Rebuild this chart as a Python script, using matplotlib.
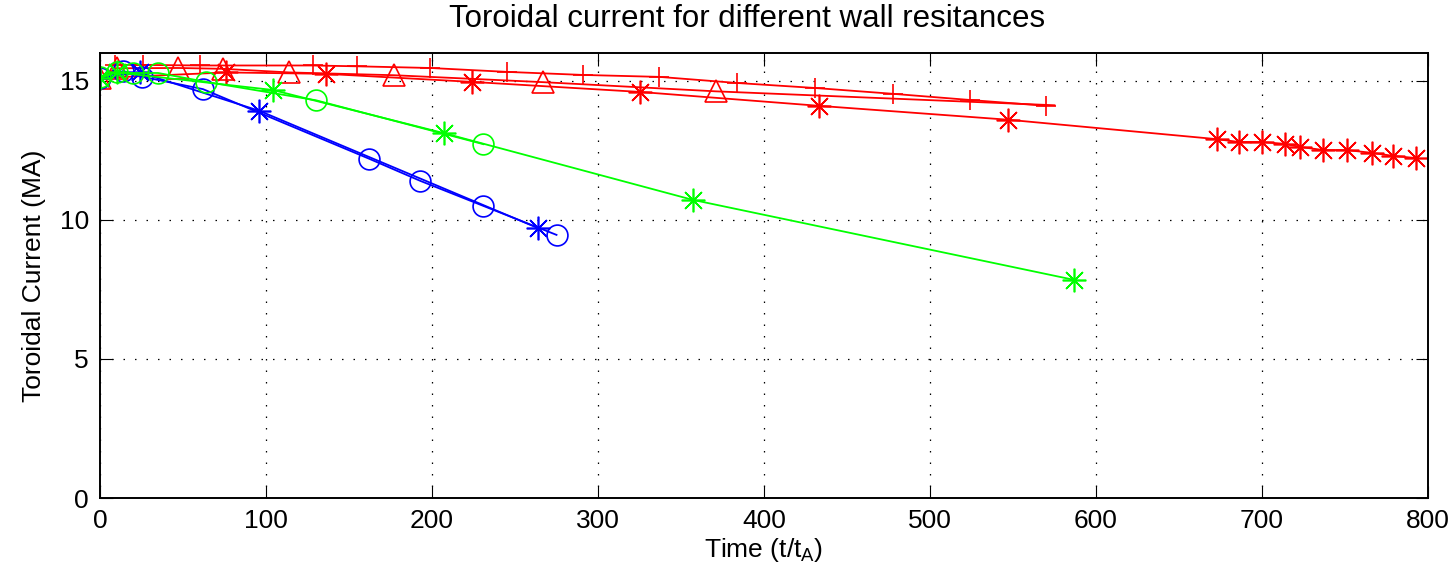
#!/usr/bin/env python3
# -*- coding: utf-8 -*-
import matplotlib
matplotlib.use("Agg")
import matplotlib.pyplot as plt

# cas (t/t_A) a prud (MA) pre jednotlive odpory steny
red_star_t = [0, 76, 136, 224, 325, 433, 547, 673, 686, 700, 714, 723, 737, 751, 766, 779, 793]
red_star_i = [15.1, 15.3, 15.25, 14.96, 14.6, 14.1, 13.6, 12.9, 12.8, 12.8, 12.73, 12.62, 12.51, 12.51, 12.41, 12.3, 12.22]

red_tri_t = [0, 10, 47, 74, 114, 177, 267, 371, 575]
red_tri_i = [15.1, 15.45, 15.46, 15.43, 15.3, 15.2, 14.95, 14.62, 14.12]

red_plus_t = [9, 26, 60, 128, 155, 199, 245, 291, 337, 384, 431, 478, 524, 570]
red_plus_i = [15.57, 15.57, 15.55, 15.55, 15.52, 15.46, 15.32, 15.21, 15.14, 14.92, 14.74, 14.53, 14.31, 14.1]

blue_o_t = [0, 14, 25, 62, 162, 193, 231, 275]
blue_o_i = [15.1, 15.35, 15.15, 14.7, 12.2, 11.4, 10.5, 9.46]

blue_star_t = [0, 24, 96, 264]
blue_star_i = [15.1, 15.3, 13.92, 9.7]

green_o_t = [0, 10, 20, 35, 64, 130, 231]
green_o_i = [15.15, 15.3, 15.28, 15.28, 14.96, 14.3, 12.72]

green_star_t = [0, 10, 104, 207, 357, 587]
green_star_i = [15.1, 15.3, 14.67, 13.12, 10.72, 7.84]

x_ticks = [0, 100, 200, 300, 400, 500, 600, 700, 800]
y_ticks = [0, 5, 10, 15]

plt.rcParams['font.family'] = ['Liberation Sans', 'DejaVu Sans']
plt.rcParams['mathtext.default'] = 'regular'

fig = plt.figure(figsize=(14.54, 5.82), dpi=100)
ax = fig.add_axes([0.0688, 0.1443, 0.9133, 0.7647])

asterisk = (8, 2, 0)  # hviezdicka ako v matlabe
mk = dict(markerfacecolor='none', markeredgewidth=1.2, linewidth=1.3)
ax.plot(red_star_t, red_star_i, color='red', marker=asterisk, markersize=17, **mk)
ax.plot(red_tri_t, red_tri_i, color='red', marker='^', markersize=16,
        markevery=list(range(len(red_tri_t) - 1)), **mk)
ax.plot(red_plus_t, red_plus_i, color='red', marker='+', markersize=15, **mk)
ax.plot(blue_o_t, blue_o_i, color='blue', marker='o', markersize=15, **mk)
ax.plot(blue_star_t, blue_star_i, color='blue', marker=asterisk, markersize=17, **mk)
ax.plot(green_o_t, green_o_i, color=(0, 1, 0), marker='o', markersize=15, **mk)
ax.plot(green_star_t, green_star_i, color=(0, 1, 0), marker=asterisk, markersize=17, **mk)

ax.set_xlim(0, 800)
ax.set_ylim(0, 16)
ax.set_xticks(x_ticks)
ax.set_yticks(y_ticks)
ax.grid(True, color='black', linestyle=(0, (1.2, 8)), linewidth=0.9)
ax.tick_params(direction='in', length=9, width=0.8, top=True, right=True, labelsize=19, pad=8)
for s in ax.spines.values():
    s.set_linewidth(1.4)

fig.text(0.514, 0.967, "Toroidal current for different wall resitances", fontsize=22.5,
         ha='center', va='center')
ax.set_xlabel("Time (t/t$_A$)", fontsize=19, labelpad=2)
ax.set_ylabel("Toroidal Current (MA)", fontsize=19, labelpad=10)

fig.savefig("out.png", dpi=100)
